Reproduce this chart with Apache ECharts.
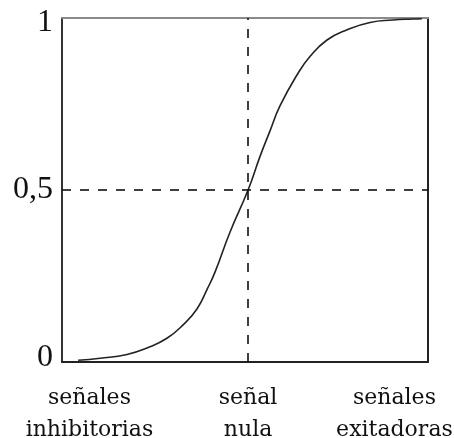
<!DOCTYPE html>
<html>
<head>
<meta charset="utf-8">
<script src="https://cdn.jsdelivr.net/npm/echarts@6/dist/echarts.min.js"></script>
<style>
  html, body { margin: 0; padding: 0; background: #fff; }
  #chart { width: 454px; height: 438px; }
</style>
</head>
<body>
<div id="chart"></div>
<script>
// Sigmoid activation: output level against input signal
const signalX = [-5.57, -4.85, -3.97, -3.31, -2.66, -2.13, -1.67, -1.34, -1.08, -0.59,
                 0, 0.39, 0.72, 1.05, 1.61, 2.03, 2.59, 3.25, 4.0, 4.75, 5.38, 5.7];
const outputY = [0.005, 0.011, 0.022, 0.041, 0.069, 0.108, 0.155, 0.212, 0.262, 0.378,
                 0.5, 0.597, 0.672, 0.745, 0.835, 0.888, 0.936, 0.966, 0.987, 0.994, 0.997, 0.998];

// Positions and texts of the axis labels
const xLabelValues = [-5.2, 0, 4.8];
const xLabelTexts = ['señales\ninhibitorias', 'señal\nnula', 'señales\nexitadoras'];
const yLabelValues = [0, 0.5, 1];
const yLabelTexts = ['0', '0,5', '1'];
// rich-text style keys that nudge the end labels inside the frame
const yLabelStyles = ['lo', 'mid', 'hi'];

const chart = echarts.init(document.getElementById('chart'), null, { renderer: 'canvas' });

const curve = signalX.map((x, i) => [x, outputY[i]]);

const yFont = { fontFamily: 'Liberation Serif', fontSize: 32, color: '#111' };

chart.setOption({
  animation: false,
  backgroundColor: '#ffffff',
  grid: { left: 62, right: 26, top: 18, bottom: 76, outerBoundsMode: 'none', containLabel: false },
  xAxis: [
    {
      type: 'value', min: -6.1, max: 5.9, position: 'bottom',
      axisLine: { show: true, onZero: false, lineStyle: { color: '#222', width: 2 } },
      axisTick: { show: false },
      splitLine: { show: false },
      axisLabel: {
        show: true,
        customValues: xLabelValues,
        formatter: v => {
          const i = xLabelValues.findIndex(t => Math.abs(t - v) < 1e-6);
          return i >= 0 ? xLabelTexts[i] : '';
        },
        fontFamily: 'DejaVu Serif', fontSize: 22, color: '#111',
        lineHeight: 32, margin: 20, align: 'center'
      }
    },
    {
      type: 'value', min: -6.1, max: 5.9, position: 'top',
      axisLine: { show: true, onZero: false, lineStyle: { color: '#8a8a8a', width: 2 } },
      axisTick: { show: false }, axisLabel: { show: false }, splitLine: { show: false }
    }
  ],
  yAxis: [
    {
      type: 'value', min: 0, max: 1, interval: 0.5, position: 'left',
      axisLine: { show: true, onZero: false, lineStyle: { color: '#333', width: 2 } },
      axisTick: { show: false },
      splitLine: { show: false },
      axisLabel: {
        show: true,
        margin: 9,
        formatter: v => {
          const i = yLabelValues.findIndex(t => Math.abs(t - v) < 1e-6);
          return i >= 0 ? '{' + yLabelStyles[i] + '|' + yLabelTexts[i] + '}' : '';
        },
        rich: {
          lo: Object.assign({ padding: [0, 0, 8, 0] }, yFont),
          mid: Object.assign({ padding: [0, 0, 0, 0] }, yFont),
          hi: Object.assign({ padding: [9, 0, 0, 0] }, yFont)
        }
      }
    },
    {
      type: 'value', min: 0, max: 1, position: 'right',
      axisLine: { show: true, onZero: false, lineStyle: { color: '#222', width: 2 } },
      axisTick: { show: false }, axisLabel: { show: false }, splitLine: { show: false }
    }
  ],
  series: [
    {
      type: 'line',
      data: curve,
      smooth: 0.5,
      showSymbol: false,
      lineStyle: { color: '#222', width: 1.6 },
      markLine: {
        silent: true,
        symbol: 'none',
        label: { show: false },
        lineStyle: { color: '#111', width: 1.6, type: [9, 9] },
        data: [
          { yAxis: 0.5 },
          { xAxis: 0 }
        ]
      }
    }
  ]
});
</script>
</body>
</html>
